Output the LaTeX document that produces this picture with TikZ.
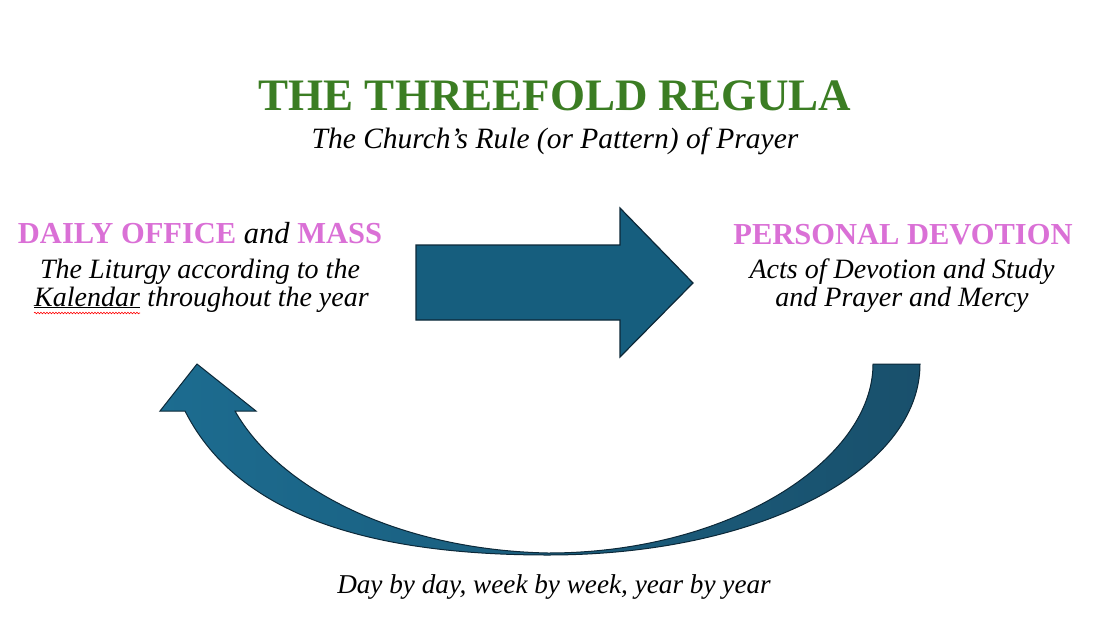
\documentclass[tikz,border=0pt]{standalone}
\usepackage{fontspec}
\setmainfont{Liberation Serif}
\usetikzlibrary{decorations.pathmorphing}
\definecolor{tgreen}{RGB}{59,125,35}
\definecolor{tpink}{RGB}{218,112,214}
\definecolor{afill}{RGB}{22,94,126}
\definecolor{aedge}{RGB}{12,40,56}
\definecolor{cleft}{RGB}{28,108,144}
\definecolor{cright}{RGB}{25,80,108}
\begin{document}
\begin{tikzpicture}[x=1pt,y=-1pt,
  txt/.style={inner sep=0pt, anchor=base},
  ttl/.style={txt, font=\fontsize{45}{45}\selectfont\bfseries, text=tgreen},
  sub/.style={txt, font=\fontsize{29.5}{29.5}\selectfont\itshape},
  head/.style={txt, font=\fontsize{30.5}{30.5}\selectfont\bfseries, text=tpink},
  body/.style={txt, font=\fontsize{28}{28}\selectfont\itshape},
  foot/.style={txt, font=\fontsize{27.2}{27.2}\selectfont\itshape},
  blockarrow/.style={draw=aedge, line width=1.2pt, line join=miter}]
\useasboundingbox (0,0) rectangle (1116,624);
\node[ttl] (title) at (555,110) {THE THREEFOLD REGULA};
\node[sub] (subtitle) at (555,148) {The Church’s Rule (or Pattern) of Prayer};
\node[head] (lhead) at (200,243) {DAILY OFFICE \textcolor{black}{\mdseries\itshape and} MASS};
\node[body] (l1) at (200,278) {The Liturgy according to the};
\node[body, anchor=base west] (kal) at (34,306) {\underline{Kalendar}};
\node[body, anchor=base west] (l2) at (kal.base east) {\ throughout the year};
\draw[red, line width=0.6pt, decorate, decoration={snake, amplitude=0.8pt, segment length=3pt}]
  ([yshift=-7pt]kal.base west) -- ([yshift=-7pt]kal.base east);
\node[head] (rhead) at (903,244) {PERSONAL DEVOTION};
\node[body] (r1) at (902,278) {Acts of Devotion and Study};
\node[body] (r2) at (902,306) {and Prayer and Mercy};
\node[foot] (bottom) at (554,593) {Day by day, week by week, year by year};
% straight arrow
\path[blockarrow, fill=afill] (416,245) -- (620,245) -- (620,208) -- (693,283) -- (620,357) -- (620,320) -- (416,320) -- cycle;
% curved arrow
\path[blockarrow, line width=1pt, left color=cleft, right color=cright]
  (920,364) -- (873,364) .. controls (873,460) and (730,553) .. (548,553)
  .. controls (400,550) and (280,490) .. (235,411) -- (256,411) -- (197,364)
  -- (160,411) -- (185,411) .. controls (240,520) and (380,555) .. (548,555)
  .. controls (760,555) and (920,470) .. (920,364) -- cycle;
\end{tikzpicture}
\end{document}
